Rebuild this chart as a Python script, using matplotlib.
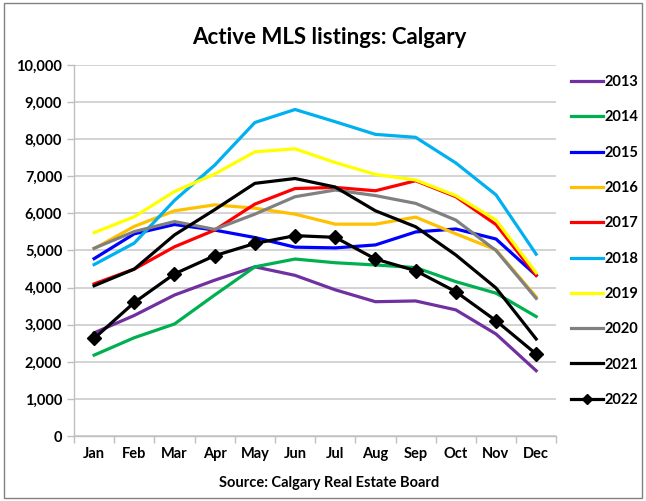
import matplotlib
matplotlib.use("Agg")
import matplotlib.pyplot as plt
from matplotlib.patches import Rectangle

plt.rcParams['font.family'] = ['Lato', 'DejaVu Sans']
plt.rcParams['font.weight'] = 'bold'

months = ["Jan", "Feb", "Mar", "Apr", "May", "Jun", "Jul", "Aug", "Sep", "Oct", "Nov", "Dec"]
years = ["2013", "2014", "2015", "2016", "2017", "2018", "2019", "2020", "2021", "2022"]
y2013 = [2780, 3250, 3800, 4200, 4560, 4330, 3940, 3620, 3640, 3400, 2750, 1760]
y2014 = [2180, 2650, 3020, 3800, 4560, 4770, 4670, 4610, 4540, 4160, 3850, 3220]
y2015 = [4780, 5450, 5700, 5550, 5350, 5090, 5070, 5150, 5500, 5580, 5310, 4330]
y2016 = [5050, 5650, 6070, 6230, 6140, 5980, 5710, 5710, 5900, 5450, 5020, 3750]
y2017 = [4100, 4500, 5100, 5550, 6250, 6670, 6700, 6610, 6880, 6450, 5700, 4330]
y2018 = [4620, 5200, 6350, 7300, 8450, 8800, 8470, 8130, 8050, 7360, 6500, 4900]
y2019 = [5480, 5910, 6590, 7060, 7660, 7740, 7370, 7050, 6900, 6480, 5820, 4400]
y2020 = [5060, 5510, 5780, 5570, 5980, 6450, 6630, 6480, 6270, 5820, 5000, 3710]
y2021 = [4050, 4500, 5420, 6100, 6810, 6940, 6710, 6070, 5640, 4880, 3990, 2615]
y2022 = [2630, 3600, 4370, 4860, 5190, 5400, 5355, 4770, 4456, 3890, 3108, 2210]
series = [y2013, y2014, y2015, y2016, y2017, y2018, y2019, y2020, y2021, y2022]
colors = ["#7030A0", "#00B050", "#0000FF", "#FFC000", "#FF0000", "#00B0F0",
          "#FFFF00", "#808080", "#000000", "#000000"]
yticks = [0, 1000, 2000, 3000, 4000, 5000, 6000, 7000, 8000, 9000, 10000]

fig = plt.figure(figsize=(6.46, 5.01), dpi=100)
ax = fig.add_axes([0.1146, 0.1297, 0.7465, 0.7406])
x = list(range(len(months)))
for name, vals, c in zip(years, series, colors):
    if name == "2022":
        ax.plot(x, vals, color=c, lw=2.3, marker='D', markersize=7, label=name)
    else:
        ax.plot(x, vals, color=c, lw=2.3, label=name)

ax.set_xlim(-0.5, 11.5)
ax.set_ylim(0, 10000)
ax.set_yticks(yticks)
ax.set_yticklabels([f"{v:,}" for v in yticks], fontsize=10.5, fontweight='bold')
ax.set_xticks([i - 0.5 for i in range(13)])
ax.set_xticklabels([])
ax.set_xticks(x, minor=True)
ax.set_xticklabels(months, minor=True, fontsize=10.5, fontweight='bold')
ax.tick_params(axis='x', which='minor', length=0, pad=8)
ax.tick_params(axis='x', which='major', length=5, color='#bfbfbf', width=1)
ax.tick_params(axis='y', length=5, color='#bfbfbf', width=1)
ax.grid(axis='y', color='#d0d0d0', lw=1.3)
ax.set_axisbelow(True)
for s in ['top', 'right']:
    ax.spines[s].set_visible(False)
for s in ['left', 'bottom']:
    ax.spines[s].set_color('#bfbfbf')
    ax.spines[s].set_linewidth(1)

leg = ax.legend(loc='upper left', bbox_to_anchor=(1.01, 1.0), frameon=False,
                fontsize=10.5, handlelength=2.2, handletextpad=0.1,
                labelspacing=1.46, borderaxespad=0.3)
for t in leg.get_texts():
    t.set_fontweight('bold')
leg.legend_handles[-1].set_markersize(5)

fig.text(0.51, 0.925, "Active MLS listings: Calgary", ha='center', va='center',
         fontsize=16, fontweight='bold')
fig.text(0.51, 0.036, "Source: Calgary Real Estate Board", ha='center', va='center',
         fontsize=10.5, fontweight='bold')
fig.patches.append(Rectangle((0.006, 0.006), 0.988, 0.988, transform=fig.transFigure,
                             fill=False, edgecolor='#808080', lw=1))
fig.savefig("out.png", dpi=100)
